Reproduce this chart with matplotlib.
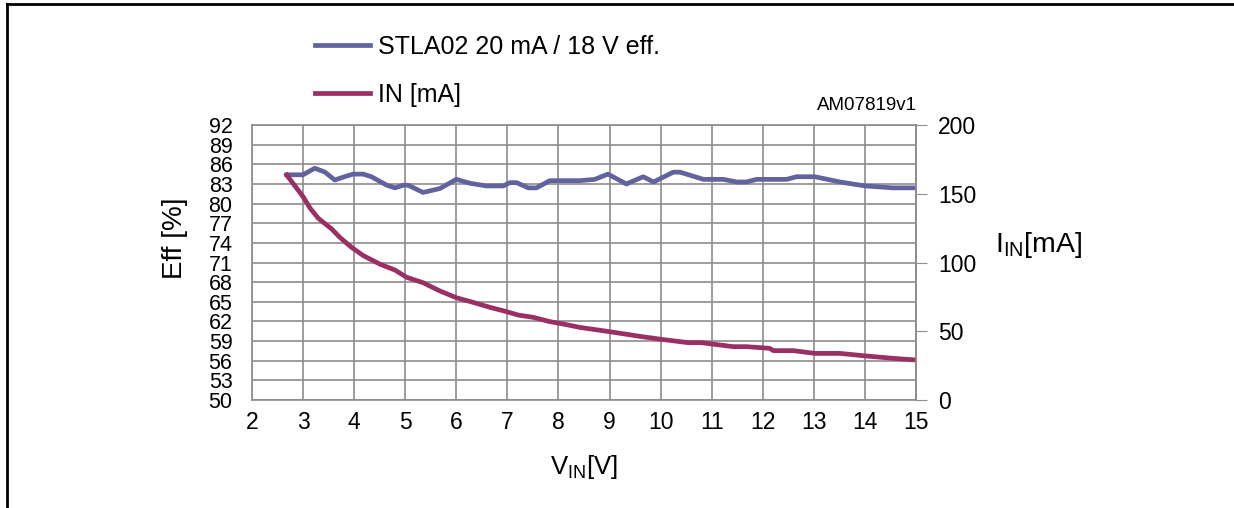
import numpy as np
import matplotlib
matplotlib.use("Agg")
import matplotlib.pyplot as plt

plt.rcParams['font.family'] = ['Liberation Sans', 'DejaVu Sans']
plt.rcParams['mathtext.fontset'] = 'custom'
plt.rcParams['mathtext.rm'] = 'Liberation Sans'

# efficiency curve (left axis, %)
v_eff = [2.68, 3.0, 3.23, 3.43, 3.62, 3.85, 3.98, 4.18, 4.34, 4.64, 4.80, 4.96, 5.06,
         5.35, 5.68, 6.0, 6.27, 6.59, 6.92, 7.05, 7.18, 7.41, 7.57, 7.83, 8.42, 8.71,
         8.97, 9.33, 9.66, 9.86, 10.25, 10.38, 10.84, 11.23, 11.49, 11.68, 11.88,
         12.47, 12.66, 13.02, 13.51, 14.0, 14.55, 15.0]
eff = [84.4, 84.4, 85.4, 84.8, 83.6, 84.2, 84.5, 84.5, 84.1, 82.8, 82.4, 82.8, 82.8,
       81.7, 82.3, 83.7, 83.1, 82.7, 82.7, 83.2, 83.2, 82.4, 82.4, 83.5, 83.5, 83.7,
       84.5, 83.0, 84.1, 83.3, 84.8, 84.8, 83.7, 83.7, 83.3, 83.3, 83.7,
       83.7, 84.1, 84.1, 83.3, 82.7, 82.4, 82.4]

# input current (right axis, mA)
v_in = [2.68, 3.0, 3.14, 3.30, 3.56, 3.72, 3.95, 4.18, 4.51, 4.80, 5.03, 5.35, 5.68,
        6.0, 6.33, 6.66, 6.99, 7.21, 7.51, 7.83, 8.09, 8.42, 9.0, 9.63, 10.02, 10.54,
        10.80, 11.42, 11.68, 12.13, 12.21, 12.6, 13.02, 13.51, 13.97, 14.55, 15.0]
i_in = [163.6, 147.9, 139.4, 132.1, 124.4, 118.3, 111.0, 105.0, 98.7, 94.5, 89.2, 85.3,
        79.3, 74.4, 71.0, 67.4, 64.2, 61.8, 60.1, 57.0, 55.3, 52.8, 49.7, 46.1, 44.1,
        41.7, 41.7, 38.8, 38.8, 37.6, 35.9, 35.9, 33.9, 33.9, 32.2, 30.3, 29.1]

left_ticks = np.arange(50, 93, 3)
right_ticks = [0, 50, 100, 150, 200]
x_ticks = np.arange(2, 16, 1)

blue = '#62639e'
red = '#9a2f63'
grid_c = '#8c8c8c'

fig = plt.figure(figsize=(12.34, 5.08), dpi=100)
ax = fig.add_axes([0.2042, 0.2126, 0.5381, 0.5413])
ax2 = ax.twinx()

ax.set_xlim(2, 15)
ax.set_ylim(50, 92)
ax.set_xticks(x_ticks)
ax.set_yticks(left_ticks)
ax.grid(True, color=grid_c, lw=1.2)
ax.tick_params(axis='both', length=0)
ax.tick_params(axis='x', pad=8, labelsize=16.5)
ax.tick_params(axis='y', pad=14, labelsize=15.5)
for s in ax.spines.values():
    s.set_color(grid_c)
    s.set_linewidth(1.2)

ax2.set_ylim(0, 200)
ax2.set_yticks(right_ticks)
ax2.tick_params(axis='y', length=8, color=grid_c, labelsize=16.5, pad=8)
for s in ax2.spines.values():
    s.set_visible(False)
ax2.spines['right'].set_visible(True)
ax2.spines['right'].set_color(grid_c)
ax2.spines['right'].set_linewidth(1.2)

l1, = ax.plot(v_eff, eff, color=blue, lw=3.4, solid_joinstyle='round')
l2, = ax2.plot(v_in, i_in, color=red, lw=3.4, solid_joinstyle='round')

ax.set_ylabel('Eff [%]', fontsize=20)
ax.yaxis.set_label_coords(-0.116, 0.589)
ax.yaxis.label.set_va('center')
ax.set_xlabel(r'V$_{\mathrm{IN}}$[V]', fontsize=18.5)
ax.xaxis.set_label_coords(0.5, -0.244)
ax.xaxis.label.set_va('center')
fig.text(0.806, 0.517, r'I$_{\mathrm{IN}}$[mA]', fontsize=20.5, ha='left', va='center')
fig.text(0.743, 0.775, 'AM07819v1', fontsize=13.5, ha='right', va='bottom')

fig.legend([l1, l2], ['STLA02 20 mA / 18 V eff.', 'IN [mA]'], loc='upper left',
           bbox_to_anchor=(0.245, 0.956), frameon=False, fontsize=18,
           handlelength=2.2, handletextpad=0.32, labelspacing=0.96, borderpad=0)

# page border (top and left)
fig.add_artist(plt.Line2D([0.006, 1.0], [0.992, 0.992], color='black', lw=2,
                          transform=fig.transFigure))
fig.add_artist(plt.Line2D([0.006, 0.006], [0.0, 0.992], color='black', lw=2,
                          transform=fig.transFigure))

fig.savefig('out.png', dpi=100)
